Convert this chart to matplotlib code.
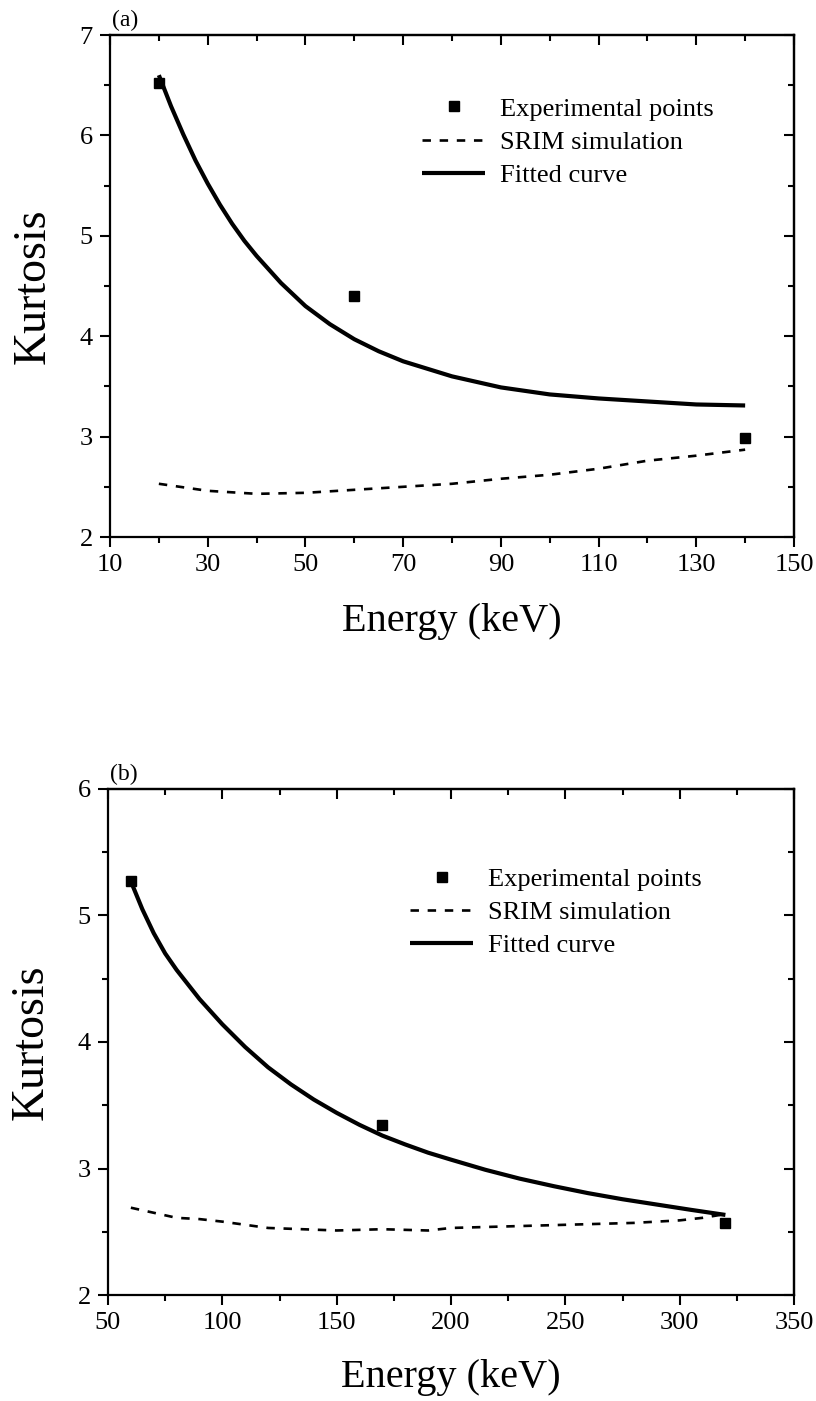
import matplotlib
matplotlib.use("Agg")
import matplotlib.pyplot as plt
from matplotlib.ticker import FixedLocator

plt.rcParams['font.family'] = ['Liberation Serif', 'DejaVu Serif']

# ---------------- Panel (a) data ----------------
a_xticks = [10, 30, 50, 70, 90, 110, 130, 150]
a_yticks = [2, 3, 4, 5, 6, 7]

a_exp_x = [20, 60, 140]
a_exp_y = [6.52, 4.40, 2.99]

a_srim_x = [20, 30, 40, 50, 60, 70, 80, 90, 100, 110, 120, 130, 140]
a_srim_y = [2.53, 2.46, 2.43, 2.44, 2.47, 2.50, 2.53, 2.58, 2.62, 2.68, 2.76, 2.81, 2.87]

a_fit_x = [20, 22.5, 25, 27.5, 30, 32.5, 35, 37.5, 40, 45, 50, 55, 60, 65, 70,
           80, 90, 100, 110, 120, 130, 140]
a_fit_y = [6.60, 6.29, 6.01, 5.75, 5.52, 5.31, 5.12, 4.95, 4.80, 4.53, 4.30, 4.12, 3.97, 3.85, 3.75,
           3.60, 3.49, 3.42, 3.38, 3.35, 3.32, 3.31]

# ---------------- Panel (b) data ----------------
b_xticks = [50, 100, 150, 200, 250, 300, 350]
b_yticks = [2, 3, 4, 5, 6]

b_exp_x = [60, 170, 320]
b_exp_y = [5.27, 3.34, 2.57]

b_srim_x = [60, 70, 80, 90, 100, 120, 150, 170, 190, 200, 240, 280, 300, 310, 320]
b_srim_y = [2.69, 2.65, 2.61, 2.60, 2.58, 2.53, 2.51, 2.52, 2.51, 2.53, 2.55, 2.57, 2.59, 2.61, 2.64]

b_fit_x = [60, 65, 70, 75, 80, 90, 100, 110, 120, 130, 140, 150, 160, 170, 180, 190, 200,
           215, 230, 245, 260, 275, 290, 305, 320]
b_fit_y = [5.27, 5.05, 4.86, 4.70, 4.57, 4.34, 4.14, 3.96, 3.80, 3.665, 3.545, 3.44, 3.345, 3.26, 3.19,
           3.125, 3.07, 2.99, 2.92, 2.86, 2.805, 2.757, 2.715, 2.673, 2.633]

labels = ["Experimental points", "SRIM simulation", "Fitted curve"]

fig = plt.figure(figsize=(8.16, 14.01), dpi=100)
W, H = 816.0, 1401.0


def make_axes(left, right, top, bottom):
    return fig.add_axes([left / W, 1 - bottom / H, (right - left) / W, (bottom - top) / H])


def minors(ticks):
    out = []
    for a, b in zip(ticks[:-1], ticks[1:]):
        out.append((a + b) / 2)
    return out


def style(ax, xlim, ylim, xt, yt, panel, xlab_y, leg_anchor):
    ax.set_xlim(*xlim)
    ax.set_ylim(*ylim)
    for sp in ax.spines.values():
        sp.set_linewidth(1.6)
    xm, ym = minors(xt), minors(yt)
    ax.xaxis.set_major_locator(FixedLocator(xt))
    ax.xaxis.set_minor_locator(FixedLocator(xm))
    ax.yaxis.set_major_locator(FixedLocator(yt))
    ax.yaxis.set_minor_locator(FixedLocator(ym))
    ax.tick_params(which='both', direction='out', top=False, right=False, width=1.5)
    ax.tick_params(which='major', length=7.5, pad=5, labelsize=19)
    ax.tick_params(which='minor', length=4.5)

    top = ax.secondary_xaxis('top')
    top.xaxis.set_major_locator(FixedLocator(xt))
    top.xaxis.set_minor_locator(FixedLocator(xm))
    top.tick_params(which='both', direction='in', labeltop=False, width=1.5)
    top.tick_params(which='major', length=7.5)
    top.tick_params(which='minor', length=4.5)
    top.spines['top'].set_linewidth(1.6)

    right = ax.secondary_yaxis('right')
    right.yaxis.set_major_locator(FixedLocator(yt))
    right.yaxis.set_minor_locator(FixedLocator(ym))
    right.tick_params(which='both', direction='in', labelright=False, width=1.5)
    right.tick_params(which='major', length=7.5)
    right.tick_params(which='minor', length=4.5)
    right.spines['right'].set_linewidth(1.6)

    ax.set_xlabel("Energy (keV)", fontsize=29)
    ax.set_ylabel("Kurtosis", fontsize=33)
    ax.xaxis.set_label_coords(0.5, xlab_y)
    ax.xaxis.label.set_va('center')
    ax.yaxis.set_label_coords(-0.112, 0.5)
    ax.yaxis.label.set_va('center')

    ax.text(0.003, 1.008, panel, transform=ax.transAxes, ha='left', va='bottom', fontsize=17)

    ax.legend(loc='upper left', bbox_to_anchor=leg_anchor, frameon=False,
              fontsize=19, handlelength=2.4, handletextpad=0.55,
              labelspacing=0.37, borderpad=0, borderaxespad=0, numpoints=1)


def draw(ax, ex, ey, sx, sy, fx, fy):
    ax.plot(ex, ey, linestyle='none', marker='s', markersize=7.5, color='black', label=labels[0])
    ax.plot(sx, sy, color='black', linewidth=1.9, dashes=(3.2, 3.3), label=labels[1])
    ax.plot(fx, fy, color='black', linewidth=3.0, solid_capstyle='butt',
            solid_joinstyle='round', label=labels[2])


# Panel (a)
axa = make_axes(110, 794, 35, 537)
draw(axa, a_exp_x, a_exp_y, a_srim_x, a_srim_y, a_fit_x, a_fit_y)
style(axa, (10, 150), (2, 7), a_xticks, a_yticks, "(a)", -0.169, (0.456, 0.876))

# Panel (b)
axb = make_axes(108, 794, 789, 1295)
draw(axb, b_exp_x, b_exp_y, b_srim_x, b_srim_y, b_fit_x, b_fit_y)
style(axb, (50, 350), (2, 6), b_xticks, b_yticks, "(b)", -0.164, (0.44, 0.845))

fig.savefig("out.png", dpi=100)
